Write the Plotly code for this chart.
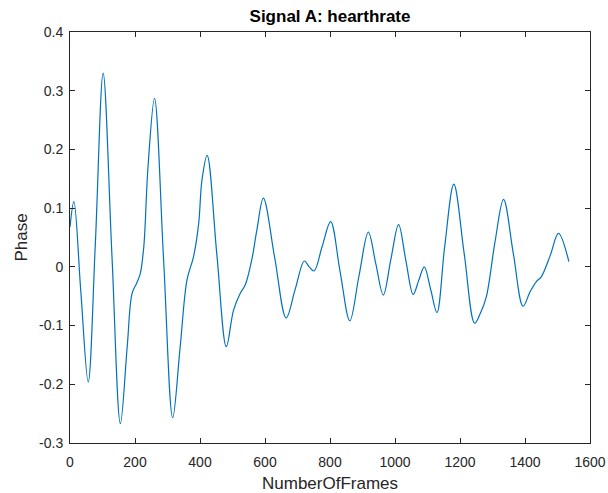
import plotly.graph_objects as go

frames = [0, 12, 33, 56, 78, 102, 129, 155, 176, 191, 205, 216, 227, 240, 260, 288, 316,
          339, 360, 380, 396, 406, 422, 452, 481, 503, 524, 539, 560, 575, 595, 630, 665,
          693, 721, 736, 751, 776, 802, 831, 861, 889, 918, 941, 964, 987, 1011, 1033, 1056, 1073, 1090,
          1110, 1129, 1153, 1181, 1213, 1245, 1262, 1281, 1307, 1334, 1364, 1394, 1416, 1435, 1450,
          1478, 1503, 1535]
phase = [0.068, 0.111, -0.04, -0.196, 0.04, 0.33, 0.02, -0.267, -0.136, -0.045, -0.028, -0.012, 0.034, 0.17, 0.287, 0.012, -0.257,
         -0.136, -0.022, 0.017, 0.074, 0.148, 0.19, 0.02, -0.136, -0.074, -0.045, -0.031, 0.014, 0.063, 0.117, 0.015, -0.087,
         -0.038, 0.01, 0.0, -0.007, 0.035, 0.077, -0.008, -0.092, -0.016, 0.059, 0.005, -0.048, 0.012, 0.072, 0.012, -0.047, -0.023, 0.0,
         -0.039, -0.078, 0.035, 0.141, 0.022, -0.096, -0.08, -0.051, 0.04, 0.115, 0.023, -0.067, -0.042, -0.025, -0.017,
         0.02, 0.057, 0.009]

x_ticks = [0, 200, 400, 600, 800, 1000, 1200, 1400, 1600]
x_labels = ["0", "200", "400", "600", "800", "1000", "1200", "1400", "1600"]
y_ticks = [-0.3, -0.2, -0.1, 0, 0.1, 0.2, 0.3, 0.4]
y_labels = ["-0.3", "-0.2", "-0.1", "0", "0.1", "0.2", "0.3", "0.4"]

FONT = "Liberation Sans, Arial, sans-serif"
TXT = "#262626"

fig = go.Figure()
fig.add_trace(go.Scatter(x=frames, y=phase, mode="lines",
                         line=dict(color="#0072BD", width=1.2, shape="spline", smoothing=1.0),
                         showlegend=False))

axis_common = dict(showline=True, linecolor=TXT, linewidth=1, mirror="ticks",
                   ticks="inside", ticklen=5, tickcolor=TXT, tickwidth=1,
                   showgrid=False, zeroline=False, automargin=False, ticklabeloverflow="allow",
                   tickfont=dict(family=FONT, size=14, color=TXT))

fig.update_layout(
    width=608, height=493,
    paper_bgcolor="white", plot_bgcolor="white",
    margin=dict(l=69.5, r=17.5, t=32, b=50),
    title=dict(text="<b>Signal A: hearthrate</b>", x=(69.5 + 590.5) / 2 / 608, xanchor="center", xref="container",
               y=1 - 10 / 493, yref="container", yanchor="top",
               font=dict(family=FONT, size=17, color="black")),
    xaxis=dict(range=[0, 1600], tickvals=x_ticks, ticktext=x_labels, ticklabelstandoff=6, **axis_common),
    yaxis=dict(range=[-0.3, 0.4], tickvals=y_ticks, ticktext=y_labels, ticklabelstandoff=3, **axis_common),
    annotations=[
        dict(text="NumberOfFrames", xref="paper", yref="paper", x=0.5, y=-29 / 411,
             xanchor="center", yanchor="top", showarrow=False,
             font=dict(family=FONT, size=17, color=TXT)),
        dict(text="Phase", xref="paper", yref="paper", x=-49 / 521, y=0.5,
             xanchor="center", yanchor="middle", textangle=-90, showarrow=False,
             font=dict(family=FONT, size=17, color=TXT)),
    ],
)

fig.write_html("out.html",
               config={"displayModeBar": False},
               post_script="document.documentElement.style.overflow='hidden';"
                           "document.body.style.overflow='hidden';"
                           "document.body.style.margin='0';")
